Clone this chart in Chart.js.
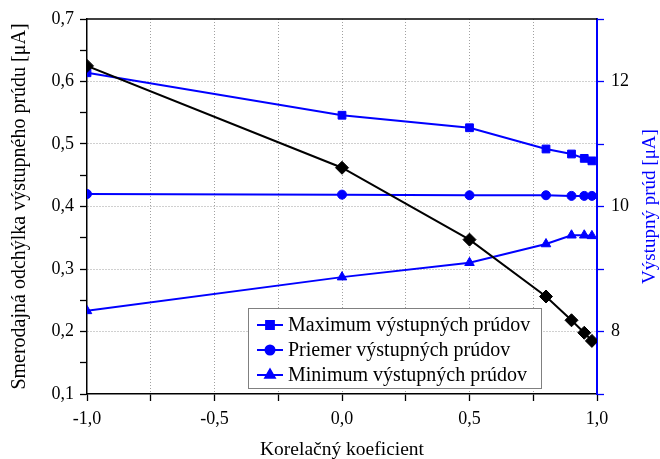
<!DOCTYPE html>
<html>
<head>
<meta charset="utf-8">
<title>Smerodajná odchýlka a výstupný prúd</title>
<script src="https://cdn.jsdelivr.net/npm/chart.js@4/dist/chart.umd.min.js"></script>
<style>
  html, body { margin: 0; padding: 0; background: #fff; }
  #wrap { position: relative; width: 660px; height: 459px; }
</style>
</head>
<body>
<div id="wrap"><canvas id="graf"></canvas></div>
<script>
// korelačný koeficient (os x)
var korel = [-1, 0, 0.5, 0.8, 0.9, 0.95, 0.98];
// smerodajná odchýlka [uA] - ľavá os
var smerOdch = [0.625, 0.462, 0.347, 0.256, 0.218, 0.198, 0.185];
// výstupný prúd [uA] - pravá os
var maxPrud = [12.14, 11.46, 11.26, 10.92, 10.84, 10.77, 10.73];
var priemPrud = [10.20, 10.19, 10.18, 10.18, 10.17, 10.17, 10.17];
var minPrud = [8.33, 8.87, 9.10, 9.40, 9.54, 9.54, 9.53];

var nazvy = ['Maximum výstupných prúdov', 'Priemer výstupných prúdov', 'Minimum výstupných prúdov'];
var nazovPrava = 'Výstupný prúd [μA]';

var pismo = '"Liberation Serif", "Times New Roman", serif';
var modra = '#0000ff';

function body(ys) {
    return korel.map(function(x, i) { return {x: x, y: ys[i]}; });
}
function ciarka(v, d) {
    return v.toFixed(d).replace('.', ',');
}

// legenda vo vnútri grafu, horný okraj a nadpis pravej osi
var legendaVnutri = {
    id: 'legendaVnutri',
    afterDraw: function(chart) {
        var ctx = chart.ctx;
        var a = chart.chartArea;
        ctx.save();
        ctx.strokeStyle = '#000';
        ctx.lineWidth = 1.5;
        ctx.beginPath();
        ctx.moveTo(a.left, a.top);
        ctx.lineTo(a.right, a.top);
        ctx.stroke();

        // nadpis pravej osi (zdola nahor)
        ctx.save();
        ctx.translate(650, (a.top + a.bottom) / 2);
        ctx.rotate(-Math.PI / 2);
        ctx.font = '19px ' + pismo;
        ctx.fillStyle = modra;
        ctx.textAlign = 'center';
        ctx.textBaseline = 'middle';
        ctx.fillText(nazovPrava, 0, 0);
        ctx.restore();

        var bx = 248, by = 308, bw = 293, bh = 80;
        ctx.fillStyle = '#fff';
        ctx.fillRect(bx, by, bw, bh);
        ctx.strokeStyle = '#808080';
        ctx.lineWidth = 1;
        ctx.strokeRect(bx + 0.5, by + 0.5, bw, bh);

        ctx.font = '20px ' + pismo;
        ctx.textBaseline = 'middle';
        for (var i = 0; i < 3; i++) {
            var ds = chart.data.datasets[i + 1];
            var y = by + 17 + i * 25;
            ctx.strokeStyle = modra;
            ctx.lineWidth = 2;
            ctx.beginPath();
            ctx.moveTo(bx + 9, y);
            ctx.lineTo(bx + 35, y);
            ctx.stroke();
            ctx.fillStyle = modra;
            Chart.helpers.drawPoint(ctx, {pointStyle: ds.pointStyle, radius: ds.pointRadius, rotation: 0, borderWidth: 1}, bx + 22, y);
            ctx.fill();
            ctx.fillStyle = '#000';
            ctx.fillText(nazvy[i], bx + 40, y + 1);
        }
        ctx.restore();
    }
};

var ctx = document.getElementById('graf');
var graf = new Chart(ctx, {
    type: 'line',
    data: {
        datasets: [{
            label: 'Smerodajná odchýlka',
            data: body(smerOdch),
            yAxisID: 'y',
            borderColor: '#000',
            backgroundColor: '#000',
            borderWidth: 2,
            pointStyle: 'rectRot',
            pointRadius: 6.5,
            pointBorderWidth: 1
        }, {
            label: nazvy[0],
            data: body(maxPrud),
            yAxisID: 'y2',
            borderColor: modra,
            backgroundColor: modra,
            borderWidth: 2,
            pointStyle: 'rect',
            pointRadius: 5.5,
            pointBorderWidth: 1
        }, {
            label: nazvy[1],
            data: body(priemPrud),
            yAxisID: 'y2',
            borderColor: modra,
            backgroundColor: modra,
            borderWidth: 2,
            pointStyle: 'circle',
            pointRadius: 4.5,
            pointBorderWidth: 1
        }, {
            label: nazvy[2],
            data: body(minPrud),
            yAxisID: 'y2',
            borderColor: modra,
            backgroundColor: modra,
            borderWidth: 2,
            pointStyle: 'triangle',
            pointRadius: 5.5,
            pointBorderWidth: 1
        }]
    },
    options: {
        responsive: true,
        maintainAspectRatio: false,
        animation: false,
        layout: { padding: { top: 19, left: 0, right: 0, bottom: 0 } },
        plugins: {
            legend: { display: false },
            tooltip: { enabled: false }
        },
        scales: {
            x: {
                type: 'linear',
                min: -1,
                max: 1,
                afterFit: function(s) { s.height = 65; },
                ticks: {
                    stepSize: 0.25,
                    autoSkip: false,
                    maxRotation: 0,
                    padding: 7,
                    color: '#000',
                    font: { family: pismo, size: 18 },
                    callback: function(v) {
                        return Math.abs(v * 2 - Math.round(v * 2)) < 1e-6 ? ciarka(v, 1) : '';
                    }
                },
                grid: {
                    color: function(c) {
                        var v = c.tick ? c.tick.value : 0;
                        return (v <= -1 || v >= 1) ? 'rgba(0,0,0,0)' : '#a0a0a0';
                    },
                    tickColor: '#000',
                    tickLength: 7,
                    tickWidth: 1.3
                },
                border: { color: '#000', width: 1.5, dash: [1, 2] },
                title: {
                    display: true,
                    text: 'Korelačný koeficient',
                    color: '#000',
                    font: { family: pismo, size: 19.5, lineHeight: 1 },
                    padding: { top: 0, bottom: -1 }
                }
            },
            y: {
                position: 'left',
                min: 0.1,
                max: 0.7,
                afterFit: function(s) { s.width = 87; },
                ticks: {
                    stepSize: 0.05,
                    autoSkip: false,
                    padding: 6,
                    color: '#000',
                    font: { family: pismo, size: 18 },
                    callback: function(v) {
                        return Math.round(v * 20) % 2 === 0 ? ciarka(v, 1) : '';
                    }
                },
                grid: {
                    color: function(c) {
                        var v = c.tick ? c.tick.value : 0;
                        var k = Math.round(v * 20);
                        return (k % 2 !== 0 || k <= 2 || k >= 14) ? 'rgba(0,0,0,0)' : '#a0a0a0';
                    },
                    tickColor: '#000',
                    tickLength: 7,
                    tickWidth: 1.3
                },
                border: { color: '#000', width: 1.5, dash: [1, 2] },
                title: {
                    display: true,
                    text: 'Smerodajná odchýlka výstupného prúdu [μA]',
                    color: '#000',
                    font: { family: pismo, size: 20, lineHeight: 1 },
                    padding: { top: 10, bottom: 0 }
                }
            },
            y2: {
                position: 'right',
                min: 7,
                max: 13,
                afterFit: function(s) { s.width = 63; },
                ticks: {
                    stepSize: 1,
                    autoSkip: false,
                    padding: 7,
                    color: '#000',
                    font: { family: pismo, size: 18 },
                    callback: function(v) {
                        return Math.round(v) % 2 === 0 ? String(v) : '';
                    }
                },
                grid: {
                    drawOnChartArea: false,
                    tickColor: modra,
                    tickLength: 7,
                    tickWidth: 1.3
                },
                border: { color: modra, width: 2 },
                title: { display: false }
            }
        }
    },
    plugins: [legendaVnutri]
});
</script>
</body>
</html>
